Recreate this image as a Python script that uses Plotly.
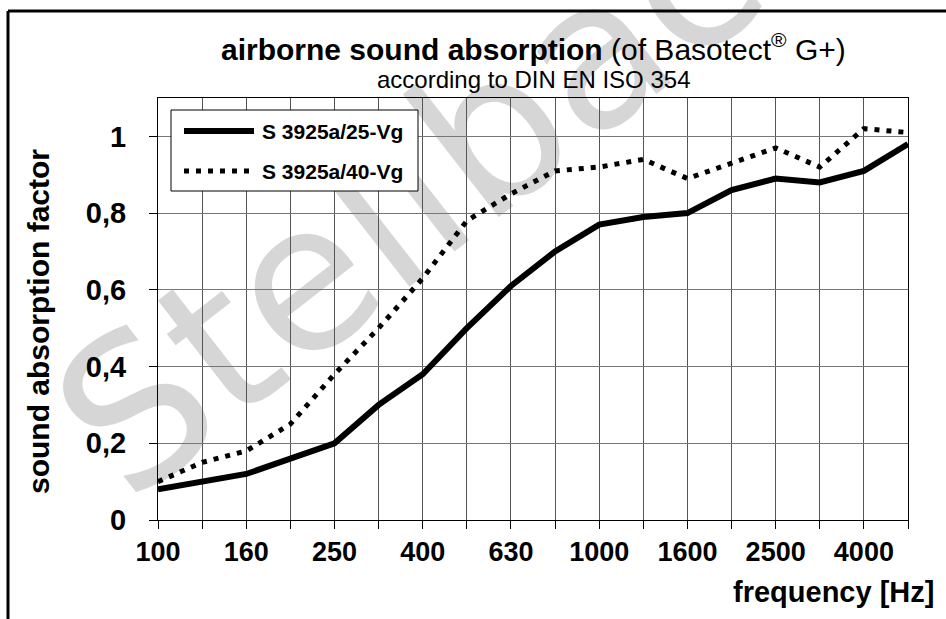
import math
import plotly.graph_objects as go

freqs = ["100", "125", "160", "200", "250", "315", "400", "500", "630", "800",
         "1000", "1250", "1600", "2000", "2500", "3150", "4000", "5000"]
s25 = [0.08, 0.10, 0.12, 0.16, 0.20, 0.30, 0.38, 0.50, 0.61, 0.70,
       0.77, 0.79, 0.80, 0.86, 0.89, 0.88, 0.91, 0.98]
s40 = [0.10, 0.15, 0.18, 0.25, 0.38, 0.50, 0.63, 0.78, 0.85, 0.91,
       0.92, 0.94, 0.89, 0.93, 0.97, 0.92, 1.02, 1.01]
series_names = ["S 3925a/25-Vg", "S 3925a/40-Vg"]
y_ticks = [0, 0.2, 0.4, 0.6, 0.8, 1.0]
y_labels = ["0", "0,2", "0,4", "0,6", "0,8", "1"]

idx = list(range(len(freqs)))
FONT = "Liberation Sans, Arial, sans-serif"
W, H = 946, 619
L, R, T, B = 158, 38, 98, 99
PW, PH = W - L - R, H - T - B


def px(x):
    return (x - L) / PW


def py(y):
    return (H - B - y) / PH


styles = [dict(color="black", width=6), dict(color="black", width=5, dash="5px,7px")]

fig = go.Figure()
fig.add_trace(go.Scatter(x=idx, y=s25, mode="lines", name=series_names[0],
                         line=styles[0], showlegend=False))
fig.add_trace(go.Scatter(x=idx, y=s40, mode="lines", name=series_names[1],
                         line=styles[1], showlegend=False))

fig.update_layout(
    width=W, height=H,
    margin=dict(l=L, r=R, t=T, b=B),
    paper_bgcolor="white", plot_bgcolor="rgba(0,0,0,0)",
    font=dict(family=FONT, color="black"),
    showlegend=False,
    xaxis=dict(range=[0, len(freqs) - 1],
               tickmode="array", tickvals=idx[::2], ticktext=[f"<b>{f}</b>" for f in freqs[::2]],
               tickfont=dict(size=27, family=FONT, color="black"),
               ticks="outside", ticklen=8, tickcolor="black",
               showgrid=True, gridcolor="#555", gridwidth=1,
               minor=dict(dtick=1, tick0=0, showgrid=True, gridcolor="#555", gridwidth=1,
                          ticks="outside", ticklen=8, tickcolor="black"),
               showline=True, linecolor="black", linewidth=1, mirror=True,
               zeroline=False),
    yaxis=dict(range=[0, 1.1],
               tickmode="array", tickvals=y_ticks, ticktext=[f"<b>{t}</b>" for t in y_labels],
               tickfont=dict(size=29, family=FONT, color="black"),
               ticks="outside", ticklen=8, tickcolor="black", ticklabelstandoff=17,
               showgrid=True, gridcolor="#777", gridwidth=1,
               showline=True, linecolor="black", linewidth=1, mirror=True,
               zeroline=False),
)

# watermark (below traces)
cx, cy, ang = 450, 146, 38.0
dx, dy = math.cos(math.radians(ang)), math.sin(math.radians(ang))
fig.add_shape(type="line", xref="paper", yref="paper",
              x0=px(cx - 300 * dx), y0=py(cy + 300 * dy), x1=px(cx + 300 * dx), y1=py(cy - 300 * dy),
              line=dict(color="rgba(0,0,0,0)", width=0), layer="between",
              label=dict(text="Stellbach", textposition="middle", yanchor="middle",
                         font=dict(size=205, family="DejaVu Sans, sans-serif", color="#d6d6d6")))

# titles
fig.add_annotation(text="<b>airborne sound absorption</b> (of Basotect<sup>®</sup> G+)",
                   xref="paper", yref="paper", x=0.5, y=py(47), xanchor="center", yanchor="middle",
                   showarrow=False, font=dict(size=30, family=FONT, color="black"))
fig.add_annotation(text="according to DIN EN ISO 354",
                   xref="paper", yref="paper", x=0.5, y=py(79), xanchor="center", yanchor="middle",
                   showarrow=False, font=dict(size=24, family=FONT, color="black"))
fig.add_annotation(text="<b>sound absorption factor</b>", xref="paper", yref="paper",
                   x=px(38), y=py(322), xanchor="center", yanchor="middle", textangle=-90,
                   showarrow=False, font=dict(size=30, family=FONT, color="black"))
fig.add_annotation(text="<b>frequency [Hz]</b>", xref="paper", yref="paper",
                   x=px(936), y=py(592), xanchor="right", yanchor="middle",
                   showarrow=False, font=dict(size=29, family=FONT, color="black"))

# legend box
fig.add_shape(type="rect", xref="paper", yref="paper",
              x0=px(171), x1=px(418), y0=py(110), y1=py(191),
              line=dict(color="black", width=1), fillcolor="white", layer="above")
for i, (name, st) in enumerate(zip(series_names, styles)):
    yy = py(131 + 40 * i)
    fig.add_shape(type="line", xref="paper", yref="paper",
                  x0=px(184), x1=px(254), y0=yy, y1=yy, line=st, layer="above")
    fig.add_annotation(text=f"<b>{name}</b>", xref="paper", yref="paper",
                       x=px(260), y=yy, xanchor="left", yanchor="middle", showarrow=False,
                       font=dict(size=21, family=FONT, color="black"))

# outer frame (top and left)
fig.add_shape(type="line", xref="paper", yref="paper",
              x0=px(8), x1=px(W), y0=py(11), y1=py(11),
              line=dict(color="black", width=3))
fig.add_shape(type="line", xref="paper", yref="paper",
              x0=px(8), x1=px(8), y0=py(11), y1=py(H),
              line=dict(color="black", width=3))

fig.write_html("out.html", config={"displayModeBar": False},
               post_script="document.body.style.margin='0px';")
